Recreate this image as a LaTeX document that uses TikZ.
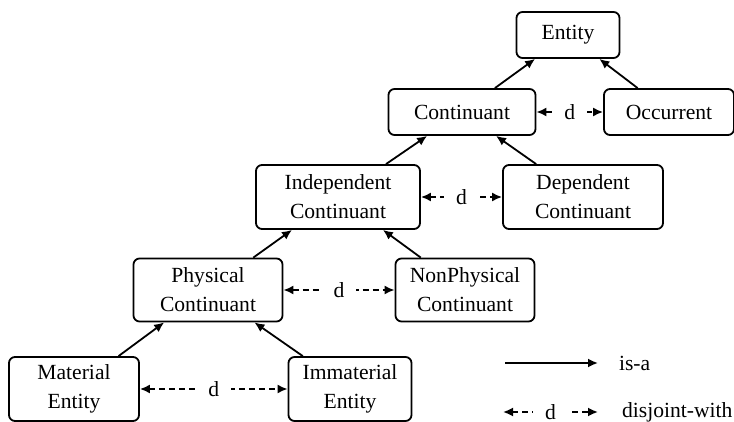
\documentclass[tikz,border=0pt]{standalone}
\usepackage{fontspec}
\setmainfont{Liberation Serif}
\usetikzlibrary{arrows.meta}

\begin{document}
\begin{tikzpicture}[x=0.5pt,y=-0.5pt,
    cls/.style={draw, rounded corners=3pt, line width=0.9pt, align=center,
      inner sep=0pt, font=\fontsize{10.8}{14.5}\selectfont},
    isa/.style={line width=0.9pt, -{Latex[length=5pt,width=4.5pt]}},
    disj/.style={line width=0.9pt, {Latex[length=5pt,width=4.5pt]}-{Latex[length=5pt,width=4.5pt]},
      dash pattern=on 3pt off 2pt},
    dlbl/.style={fill=white, inner xsep=6pt, inner ysep=2pt, font=\fontsize{10.8}{13}\selectfont}]
    \useasboundingbox (0,0) rectangle (734,422);
    % Classes
    \node[cls, minimum width=51.5pt, minimum height=23pt] (ent) at (568,35) {Entity};
    \node[cls, minimum width=73.5pt, minimum height=23pt] (cont) at (462,112) {Continuant};
    \node[cls, minimum width=65pt, minimum height=23pt] (occ) at (669,112) {Occurrent};
    \node[cls, minimum width=82pt, minimum height=32pt] (indep) at (338,197) {Independent\\Continuant};
    \node[cls, minimum width=80pt, minimum height=32pt] (dep) at (583,197) {Dependent\\Continuant};
    \node[cls, minimum width=74.5pt, minimum height=31.5pt] (phys) at (208,290) {Physical\\Continuant};
    \node[cls, minimum width=69.5pt, minimum height=31.5pt] (nphys) at (465,290) {NonPhysical\\Continuant};
    \node[cls, minimum width=65pt, minimum height=32pt] (mat) at (74,389) {Material\\Entity};
    \node[cls, minimum width=61.5pt, minimum height=32pt] (imm) at (350,389) {Immaterial\\Entity};
    % is-a edges
    \draw[isa] (cont) -- (ent);
    \draw[isa] (occ) -- (ent);
    \draw[isa] (indep) -- (cont);
    \draw[isa] (dep) -- (cont);
    \draw[isa] (phys) -- (indep);
    \draw[isa] (nphys) -- (indep);
    \draw[isa] (mat) -- (phys);
    \draw[isa] (imm) -- (phys);
    % disjoint-with edges
    \draw[disj] (cont) -- node[dlbl] {d} (occ);
    \draw[disj] (indep) -- node[dlbl] {d} (dep);
    \draw[disj] (phys) -- node[dlbl] {d} (nphys);
    \draw[disj] (mat) -- node[dlbl] {d} (imm);
    % Legend
    \coordinate (la) at (505,363);
    \coordinate (lb) at (598,363);
    \node[anchor=west, font=\fontsize{10.8}{13}\selectfont] (lisa) at (612,363) {is-a};
    \draw[isa] (la) -- (lb);
    \coordinate (lc) at (503,412);
    \coordinate (ld) at (598,412);
    \node[anchor=west, font=\fontsize{10.8}{13}\selectfont] (ldis) at (615,412) {disjoint-with};
    \draw[disj] (lc) -- node[dlbl] {d} (ld);
\end{tikzpicture}
\end{document}
